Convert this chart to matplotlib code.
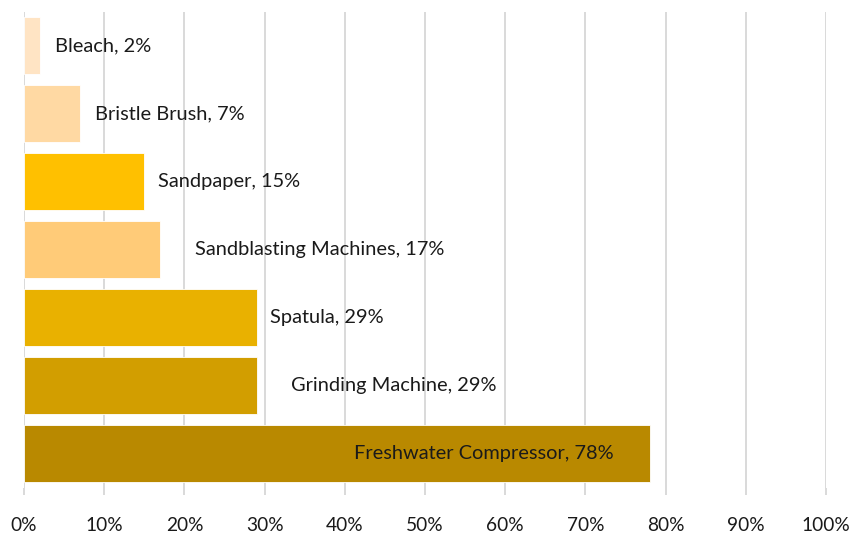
import matplotlib
matplotlib.use('Agg')
import matplotlib.pyplot as plt
from matplotlib.ticker import PercentFormatter

plt.rcParams['font.family'] = ['Lato', 'DejaVu Sans']

# data, bottom bar first
tools = ['Freshwater Compressor', 'Grinding Machine', 'Spatula',
         'Sandblasting Machines', 'Sandpaper', 'Bristle Brush', 'Bleach']
shares = [78, 29, 29, 17, 15, 7, 2]
colors = ['#B98900', '#D29E00', '#E9B100', '#FFCB78', '#FFC000', '#FFD9A3', '#FFE4C4']
# where each data label starts (in % units, moved by hand in the original)
label_x = [41.1, 33.3, 30.7, 21.3, 16.7, 8.9, 3.9]
xticks = list(range(0, 101, 10))

fig = plt.figure(figsize=(8.54, 5.36), dpi=100)
ax = fig.add_axes([24/854, 1 - 487.5/536, 802/854, 476/536])

pos = range(len(tools))
ax.barh(pos, shares, height=0.84, color=colors, edgecolor='white', linewidth=0.6, zorder=2)

for i, (name, v) in enumerate(zip(tools, shares)):
    ax.text(label_x[i], i, f'{name}, {v}%', va='center', ha='left',
            fontsize=14.4, color='#1a1a1a', zorder=3)

ax.set_xlim(0, 100)
ax.set_ylim(-0.5, len(tools) - 0.5)
ax.set_xticks(xticks)
ax.xaxis.set_major_formatter(PercentFormatter(decimals=0))
ax.set_yticks([])
ax.grid(axis='x', color='#D9D9D9', linewidth=1.4, zorder=0)
ax.tick_params(axis='x', length=5, width=1.4, color='#D9D9D9', labelsize=13.8,
               labelcolor='#1a1a1a', pad=16)
for s in ax.spines.values():
    s.set_visible(False)

fig.savefig('out.png', dpi=100)
